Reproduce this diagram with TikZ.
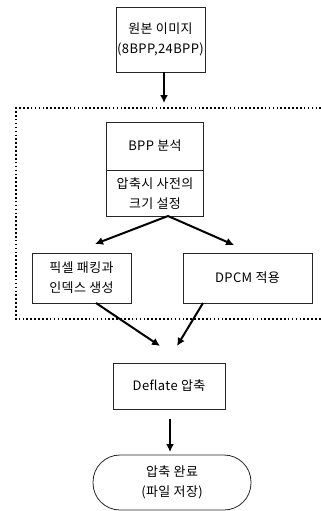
\documentclass[tikz,border=0pt]{standalone}
\usepackage{fontspec}
\setmainfont{Noto Sans CJK KR}[LetterSpace=3]
\usetikzlibrary{arrows.meta}

\tikzset{
  box/.style={draw=black!85, line width=0.8pt, inner sep=0pt, align=center,
    font=\fontsize{13}{20}\selectfont},
  pill/.style={box, rounded corners=27pt},
  flow/.style={line width=2pt, -{Latex[length=8pt,width=8pt]}},
  frame/.style={line width=1.7pt, dash pattern=on 1.6pt off 2.3pt}
}

\begin{document}
\begin{tikzpicture}[x=1pt,y=-1pt]
  \useasboundingbox (0,0) rectangle (321,511);

  % dotted frame round the preprocessing stage (open on the right)
  \draw[frame] (321,108) -- (16,108) -- (16,319) -- (321,319);

  % boxes
  \node[box, minimum width=89pt, minimum height=65pt] (src) at (160.5,39.5)
    {원본 이미지\\(8BPP,24BPP)};
  \node[box, minimum width=97pt, minimum height=48pt] (bpp) at (155,146)
    {BPP 분석};
  \node[box, minimum width=97pt, minimum height=46pt, anchor=north] (dict)
    at (bpp.south) {압축시 사전의\\크기 설정};
  \node[box, minimum width=99pt, minimum height=50pt] (pack) at (81.5,278)
    {픽셀 패킹과\\인덱스 생성};
  \node[box, minimum width=129pt, minimum height=50pt] (dpcm) at (247.5,278)
    {DPCM 적용};
  \node[box, minimum width=112pt, minimum height=46pt] (defl) at (169,386)
    {Deflate 압축};
  \node[pill, minimum width=158pt, minimum height=55pt] (done) at (172,482.5)
    {압축 완료\\(파일 저장)};

  % connector end points
  \coordinate (t1) at (164,103);
  \coordinate (split) at (168,216);
  \coordinate (t2) at (95,244);
  \coordinate (t3) at (234,245);
  \coordinate (s4) at (96,303);
  \coordinate (t4) at (160,346);
  \coordinate (s5) at (203,303);
  \coordinate (t5) at (177,346);
  \coordinate (s6) at (170,419);
  \coordinate (t6) at (170,452);

  % connectors
  \draw[flow] (src.south -| t1) -- (t1);
  \draw[flow] (split) -- (t2);
  \draw[flow] (split) -- (t3);
  \draw[flow] (s4) -- (t4);
  \draw[flow] (s5) -- (t5);
  \draw[flow] (s6) -- (t6);
\end{tikzpicture}
\end{document}
